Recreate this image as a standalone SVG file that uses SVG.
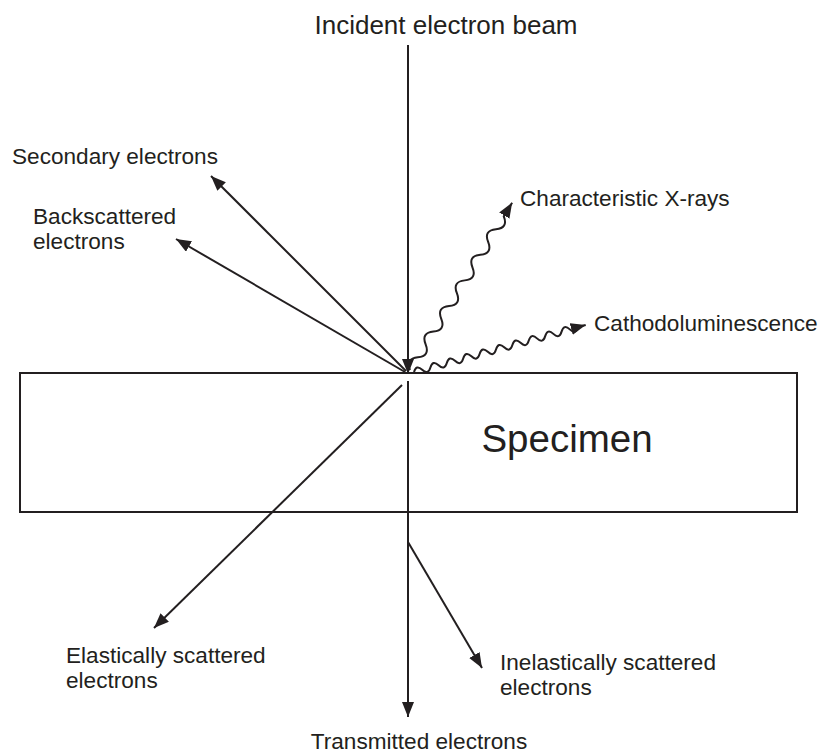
<svg xmlns="http://www.w3.org/2000/svg" width="820" height="754" viewBox="0 0 820 754">
<style>
.ln{stroke:#231f20;stroke-width:2;fill:none}
.ar{marker-end:url(#ah)}
text{font-family:"Liberation Sans",Arial,sans-serif;fill:#231f20;font-size:22.6px}
</style>
<defs>
<marker id="ah" markerUnits="userSpaceOnUse" markerWidth="17" markerHeight="13" refX="15" refY="6" orient="auto">
<path d="M0,0 L15,6 L0,12 z" fill="#231f20"/>
</marker>
</defs>
<rect x="0" y="0" width="820" height="754" fill="#fff"/>
<g id="specimen">
<rect class="ln" x="20" y="373" width="777" height="139"/>
<text x="567" y="452" text-anchor="middle" style="font-size:38.5px">Specimen</text>
</g>
<g id="connectors">
<line class="ln ar" x1="408" y1="45" x2="408" y2="374"/>
<line class="ln ar" x1="408" y1="381" x2="408" y2="717"/>
<line class="ln ar" x1="406" y1="371" x2="211" y2="176"/>
<line class="ln ar" x1="405" y1="372" x2="176" y2="239"/>
<line class="ln ar" x1="402" y1="385" x2="154" y2="628"/>
<line class="ln ar" x1="408" y1="542" x2="482" y2="668"/>
<path class="ln ar" transform="translate(410,370) rotate(-58.6)" d="M0,0 q7.5,-10 15,0 t15,0 t15,0 t15,0 t15,0 t15,0 t15,0 t15,0 t15,0 t15,0 t15,0 t15,0 L196,0"/>
<path class="ln ar" transform="translate(414,372) rotate(-15.3)" d="M0,0 q4.25,-7 8.5,0 t8.5,0 t8.5,0 t8.5,0 t8.5,0 t8.5,0 t8.5,0 t8.5,0 t8.5,0 t8.5,0 t8.5,0 t8.5,0 t8.5,0 t8.5,0 t8.5,0 t8.5,0 t8.5,0 t8.5,0 t8.5,0 t8.5,0 L178,0"/>
</g>
<g id="incident"><text x="446" y="34" text-anchor="middle" style="font-size:26px">Incident electron beam</text></g>
<g id="secondary"><text x="12" y="164">Secondary electrons</text></g>
<g id="backscattered"><text x="33" y="224">Backscattered</text><text x="33" y="249">electrons</text></g>
<g id="xrays"><text x="520" y="206">Characteristic X-rays</text></g>
<g id="cathodo"><text x="594" y="331">Cathodoluminescence</text></g>
<g id="elastic"><text x="66" y="663">Elastically scattered</text><text x="66" y="688">electrons</text></g>
<g id="inelastic"><text x="500" y="670">Inelastically scattered</text><text x="500" y="695">electrons</text></g>
<g id="transmitted"><text x="419" y="749" text-anchor="middle">Transmitted electrons</text></g>
</svg>
